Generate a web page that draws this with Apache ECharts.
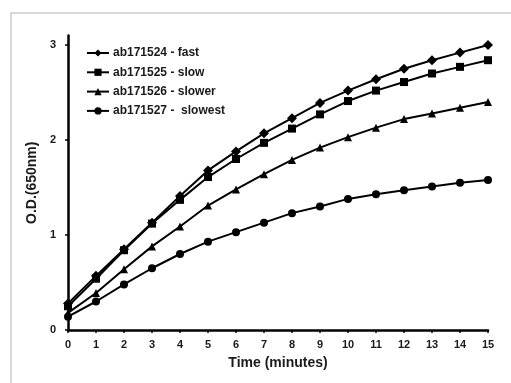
<!DOCTYPE html>
<html>
<head>
<meta charset="utf-8">
<script src="https://cdn.jsdelivr.net/npm/echarts@6/dist/echarts.min.js"></script>
<style>
html,body{margin:0;padding:0;background:#fff;}
#c{width:511px;height:383px;}
</style>
</head>
<body>
<div id="c"></div>
<script>
var timeMinutes = [0,1,2,3,4,5,6,7,8,9,10,11,12,13,14,15];
var seriesNames = ['ab171524 - fast','ab171525 - slow','ab171526 - slower','ab171527 -  slowest'];
var fast    = [0.28,0.57,0.85,1.13,1.41,1.68,1.88,2.07,2.23,2.39,2.52,2.64,2.75,2.84,2.92,3.00];
var slow    = [0.25,0.54,0.84,1.12,1.37,1.61,1.80,1.97,2.12,2.27,2.41,2.52,2.61,2.70,2.77,2.84];
var slower  = [0.18,0.39,0.64,0.88,1.09,1.31,1.48,1.64,1.79,1.92,2.03,2.13,2.22,2.28,2.34,2.40];
var slowest = [0.14,0.30,0.48,0.65,0.80,0.93,1.03,1.13,1.23,1.30,1.38,1.43,1.47,1.51,1.55,1.58];
var yTicks = [0,1,2,3];
var xTicks = timeMinutes;

var FONT = 'Liberation Sans, Arial, sans-serif';
function pairs(arr){ return timeMinutes.map(function(t,i){ return [t, arr[i]]; }); }
var symbols = [['diamond',10],['rect',8],['triangle',8],['circle',8]];
var datas = [fast, slow, slower, slowest];

var chart = echarts.init(document.getElementById('c'), null, {renderer:'canvas'});
chart.setOption({
  animation:false,
  backgroundColor:'#fff',
  graphic:[{
    type:'polyline',
    shape:{points:[[11,383],[11,13],[511,13]]},
    style:{stroke:'#d8d8d8', lineWidth:2, fill:null},
    silent:true
  }],
  legend:{
    orient:'vertical',
    left:81, top:42,
    itemWidth:22, itemHeight:9, itemGap:7.3,
    textStyle:{fontFamily:FONT, fontWeight:'bold', fontSize:12, color:'#1a1a1a', padding:[0,0,0,-1]},
    data:seriesNames
  },
  grid:{left:68, right:23, top:35.5, bottom:53, containLabel:false},
  xAxis:{
    type:'value', min:0, max:15, interval:1,
    name:'Time (minutes)', nameLocation:'middle', nameGap:26,
    nameTextStyle:{fontFamily:FONT, fontWeight:'bold', fontSize:14, color:'#1a1a1a'},
    axisLine:{show:true, onZero:false, lineStyle:{color:'#000', width:2.5}},
    axisTick:{show:true, inside:false, length:3, lineStyle:{color:'#000', width:1.5}},
    axisLabel:{fontFamily:FONT, fontWeight:'bold', fontSize:11, color:'#1a1a1a', margin:9, customValues:xTicks},
    splitLine:{show:false}
  },
  yAxis:{
    type:'value', min:0, max:3.1, interval:1,
    name:'O.D.(650nm)', nameLocation:'middle', nameGap:21, nameRotate:90,
    nameTextStyle:{fontFamily:FONT, fontWeight:'bold', fontSize:14, color:'#1a1a1a'},
    axisLine:{show:true, lineStyle:{color:'#000', width:2.5}},
    axisTick:{show:true, inside:false, length:3, lineStyle:{color:'#000', width:1.5}, customValues:yTicks},
    axisLabel:{fontFamily:FONT, fontWeight:'bold', fontSize:11, color:'#1a1a1a', margin:12, customValues:yTicks},
    splitLine:{show:false}
  },
  series: datas.map(function(d,i){
    return {
      name:seriesNames[i], type:'line',
      data:pairs(d),
      symbol:symbols[i][0], symbolSize:symbols[i][1],
      showAllSymbol:true,
      lineStyle:{color:'#000', width:2},
      itemStyle:{color:'#000', borderWidth:0},
      z:10-i
    };
  })
});
</script>
</body>
</html>
